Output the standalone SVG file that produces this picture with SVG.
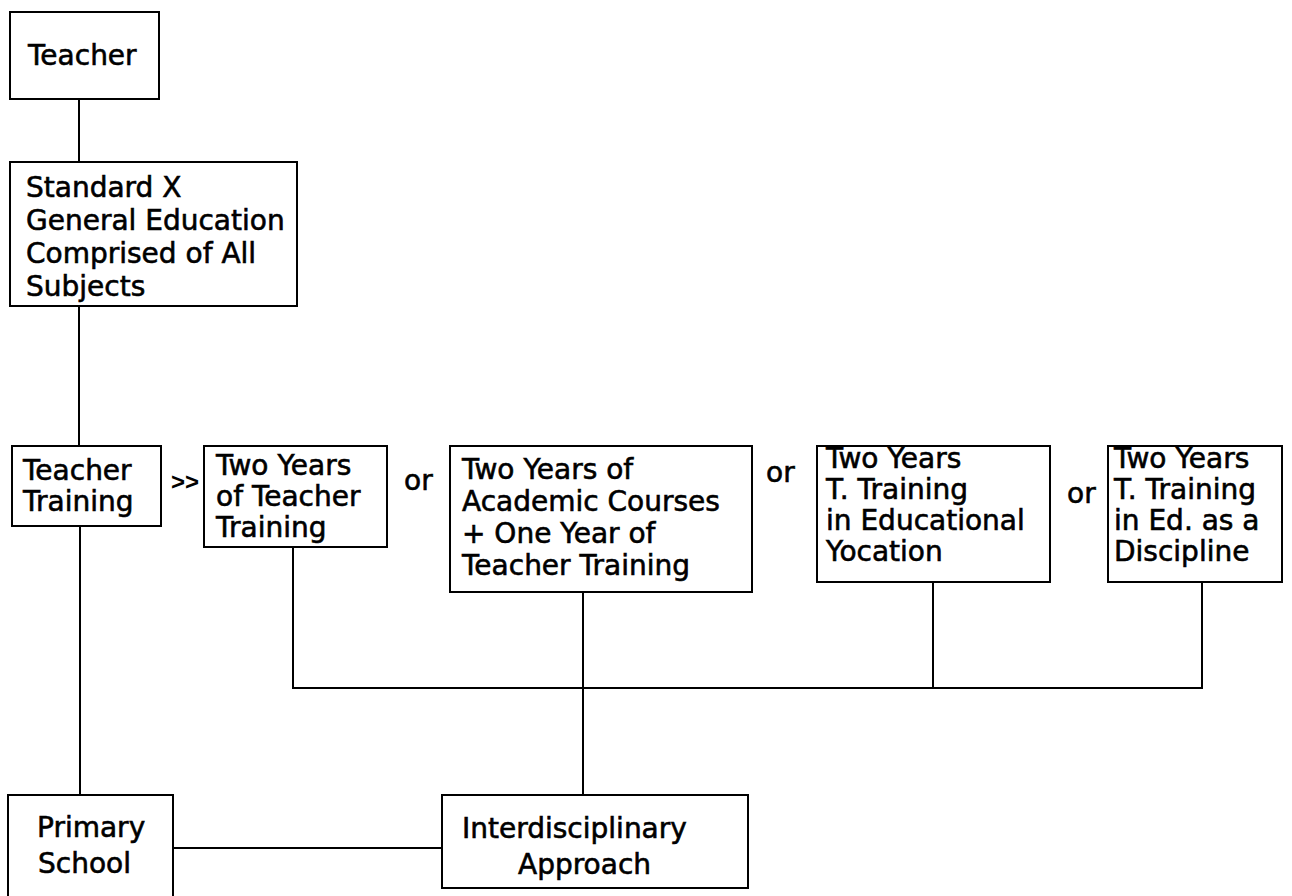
<svg xmlns="http://www.w3.org/2000/svg" width="1292" height="896" viewBox="0 0 1292 896">
<style>
.box{fill:#fff;stroke:#000;stroke-width:2}
.t{font-family:"DejaVu Sans","Liberation Sans",sans-serif;font-size:28px;fill:#000;stroke:#000;stroke-width:0.6}
.c{text-anchor:middle}
.sym{font-family:"Liberation Sans",sans-serif;font-size:24px;font-weight:bold;fill:#000}
.ln{stroke:#000;stroke-width:2;fill:none}
</style>
<rect width="1292" height="896" fill="#fff"/>
<g id="connectors">
<line class="ln" x1="79" y1="99" x2="79" y2="162"/>
<line class="ln" x1="79" y1="306" x2="79" y2="446"/>
<line class="ln" x1="80" y1="526" x2="80" y2="795"/>
<line class="ln" x1="293" y1="547" x2="293" y2="688"/>
<line class="ln" x1="583" y1="592" x2="583" y2="795"/>
<line class="ln" x1="933" y1="582" x2="933" y2="688"/>
<line class="ln" x1="1202" y1="582" x2="1202" y2="688"/>
<line class="ln" x1="292" y1="688" x2="1203" y2="688"/>
<line class="ln" x1="173" y1="848" x2="442" y2="848"/>
</g>
<g id="teacher">
<rect class="box" x="10" y="12" width="149" height="87"/>
<text class="t" x="28" y="65">Teacher</text>
</g>
<g id="standard-x">
<rect class="box" x="10" y="162" width="287" height="144"/>
<text class="t" x="26" y="197">Standard X</text>
<text class="t" x="26" y="230">General Education</text>
<text class="t" x="26" y="263">Comprised of All</text>
<text class="t" x="26" y="296">Subjects</text>
</g>
<g id="teacher-training">
<rect class="box" x="12" y="446" width="149" height="80"/>
<text class="t" x="23" y="480">Teacher</text>
<text class="t" x="23" y="511">Training</text>
</g>
<text class="sym" x="171" y="490">&gt;&gt;</text>
<g id="option-1">
<rect class="box" x="204" y="446" width="183" height="101"/>
<text class="t" x="216" y="475">Two Years</text>
<text class="t" x="216" y="506">of Teacher</text>
<text class="t" x="216" y="537">Training</text>
</g>
<text class="t" x="404" y="490">or</text>
<g id="option-2">
<rect class="box" x="450" y="446" width="302" height="146"/>
<text class="t" x="462" y="479">Two Years of</text>
<text class="t" x="462" y="511">Academic Courses</text>
<text class="t" x="462" y="543">+ One Year of</text>
<text class="t" x="462" y="575">Teacher Training</text>
</g>
<text class="t" x="766" y="482">or</text>
<g id="option-3">
<rect class="box" x="817" y="446" width="233" height="136"/>
<text class="t" x="826" y="468">Two Years</text>
<text class="t" x="826" y="499">T. Training</text>
<text class="t" x="826" y="530">in Educational</text>
<text class="t" x="826" y="561">Yocation</text>
</g>
<text class="t" x="1067" y="503">or</text>
<g id="option-4">
<rect class="box" x="1108" y="446" width="174" height="136"/>
<text class="t" x="1114" y="468">Two Years</text>
<text class="t" x="1114" y="499">T. Training</text>
<text class="t" x="1114" y="530">in Ed. as a</text>
<text class="t" x="1114" y="561">Discipline</text>
</g>
<g id="primary-school">
<rect class="box" x="8" y="795" width="165" height="110"/>
<text class="t" x="37" y="837">Primary</text>
<text class="t" x="38" y="873">School</text>
</g>
<g id="interdisciplinary">
<rect class="box" x="442" y="795" width="306" height="93"/>
<text class="t" x="462" y="838">Interdisciplinary</text>
<text class="t" x="518" y="874">Approach</text>
</g>
</svg>
